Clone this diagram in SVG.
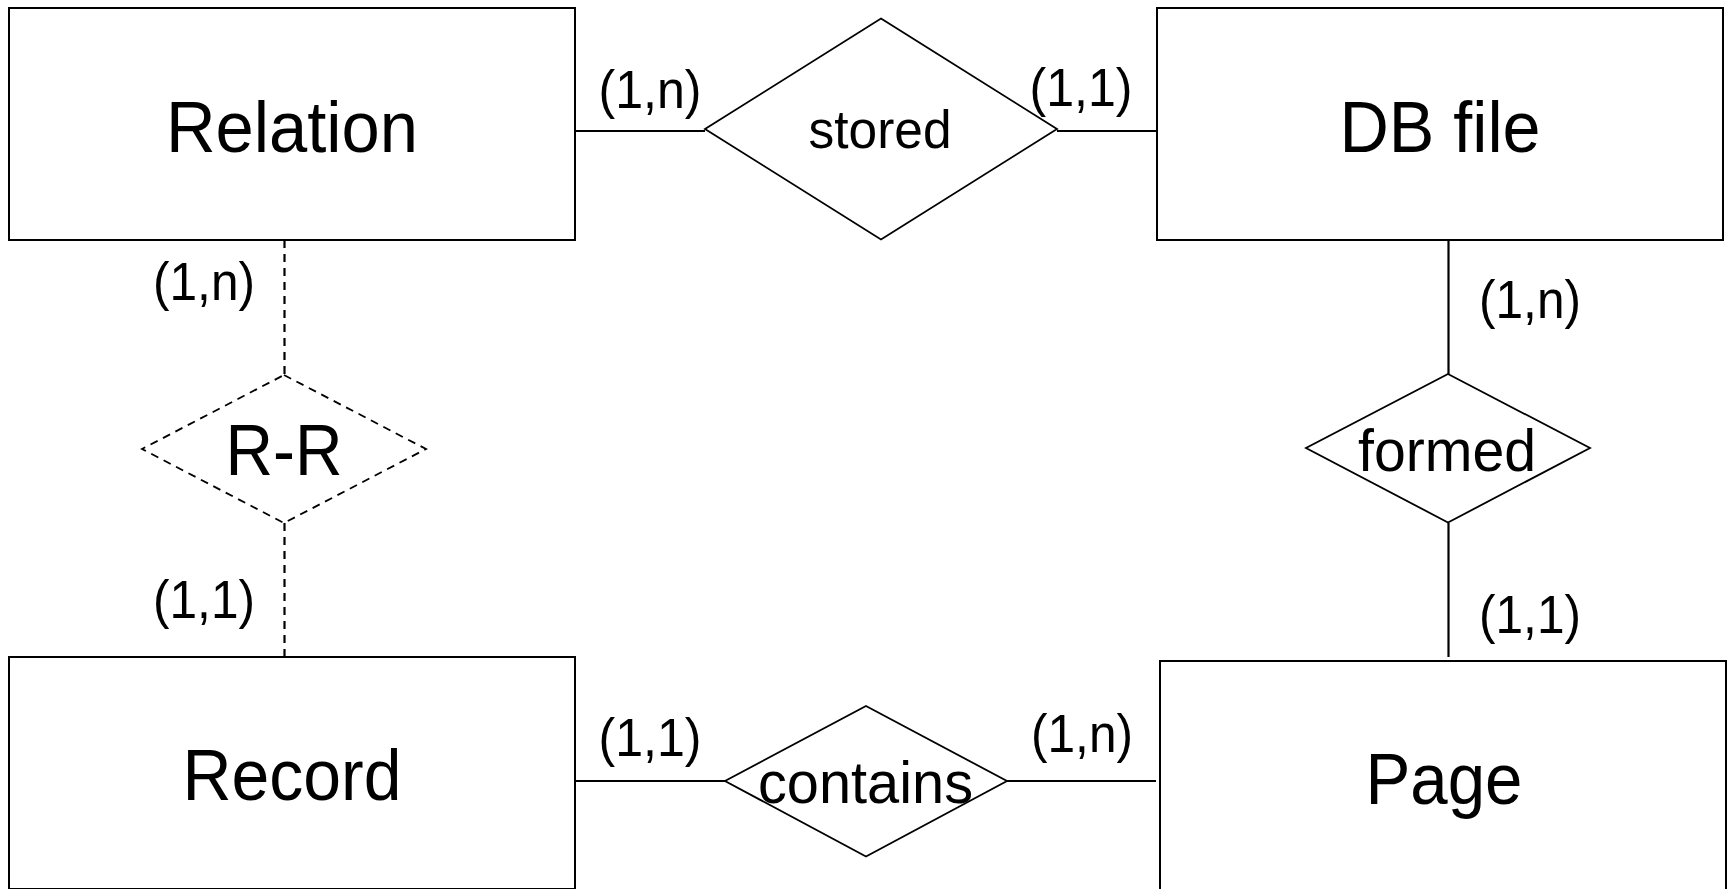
<svg xmlns="http://www.w3.org/2000/svg" width="1727" height="889" viewBox="0 0 1727 889">
<style>
.ent{fill:#fff;stroke:#000;stroke-width:2}
.rel{fill:#fff;stroke:#000;stroke-width:1.8}
.dash{stroke-dasharray:8 6}
.ln{fill:none;stroke:#000;stroke-width:2.2}
text{font-family:"Liberation Sans",Arial,Helvetica,sans-serif;fill:#000;text-anchor:middle}
.big{font-size:72px}
.mid{font-size:59px}
.sm{font-size:53px}
.card{font-size:53px}
</style>
<rect width="1727" height="889" fill="#fff"/>
<g id="connectors">
<line class="ln" x1="575" y1="131" x2="705" y2="131"/>
<line class="ln" x1="1057" y1="131" x2="1157" y2="131"/>
<line class="ln dash" x1="284.5" y1="240" x2="284.5" y2="375"/>
<line class="ln dash" x1="284.5" y1="523" x2="284.5" y2="657"/>
<line class="ln" x1="1448.5" y1="240" x2="1448.5" y2="374"/>
<line class="ln" x1="1448.5" y1="523" x2="1448.5" y2="657"/>
<line class="ln" x1="575" y1="781" x2="725" y2="781"/>
<line class="ln" x1="1007" y1="781" x2="1156" y2="781"/>
<text class="card" x="650" y="108" textLength="103" lengthAdjust="spacingAndGlyphs">(1,n)</text>
<text class="card" x="1081" y="106" textLength="103" lengthAdjust="spacingAndGlyphs">(1,1)</text>
<text class="card" x="204" y="300" textLength="102" lengthAdjust="spacingAndGlyphs">(1,n)</text>
<text class="card" x="204" y="618" textLength="102" lengthAdjust="spacingAndGlyphs">(1,1)</text>
<text class="card" x="1530" y="318" textLength="102" lengthAdjust="spacingAndGlyphs">(1,n)</text>
<text class="card" x="1530" y="633" textLength="102" lengthAdjust="spacingAndGlyphs">(1,1)</text>
<text class="card" x="650" y="756" textLength="103" lengthAdjust="spacingAndGlyphs">(1,1)</text>
<text class="card" x="1082" y="752" textLength="102" lengthAdjust="spacingAndGlyphs">(1,n)</text>
</g>
<g id="relation">
<rect class="ent" x="9" y="8" width="566" height="232"/>
<text class="big" x="292" y="152" textLength="252" lengthAdjust="spacingAndGlyphs">Relation</text>
</g>
<g id="dbfile">
<rect class="ent" x="1157" y="8" width="566" height="232"/>
<text class="big" x="1440" y="152" textLength="201" lengthAdjust="spacingAndGlyphs">DB file</text>
</g>
<g id="record">
<rect class="ent" x="9" y="657" width="566" height="232"/>
<text class="big" x="292" y="800" textLength="219" lengthAdjust="spacingAndGlyphs">Record</text>
</g>
<g id="page">
<rect class="ent" x="1160" y="661" width="566" height="232"/>
<text class="big" x="1444" y="804" textLength="157" lengthAdjust="spacingAndGlyphs">Page</text>
</g>
<g id="stored">
<polygon class="rel" points="881,18.5 1057,129 881,239.5 705,129"/>
<text class="sm" x="880" y="148" textLength="143" lengthAdjust="spacingAndGlyphs">stored</text>
</g>
<g id="rr">
<polygon class="rel dash" points="284,375 426,449 284,523 142,449"/>
<text class="big" x="284" y="475" textLength="117" lengthAdjust="spacingAndGlyphs">R-R</text>
</g>
<g id="formed">
<polygon class="rel" points="1448,374 1590,448 1448,522.5 1306,448"/>
<text class="mid" x="1447" y="471" textLength="178" lengthAdjust="spacingAndGlyphs">formed</text>
</g>
<g id="contains">
<polygon class="rel" points="866,706 1007,781 866,856.5 725,781"/>
<text class="mid" x="865.5" y="803" textLength="215" lengthAdjust="spacingAndGlyphs">contains</text>
</g>
</svg>
